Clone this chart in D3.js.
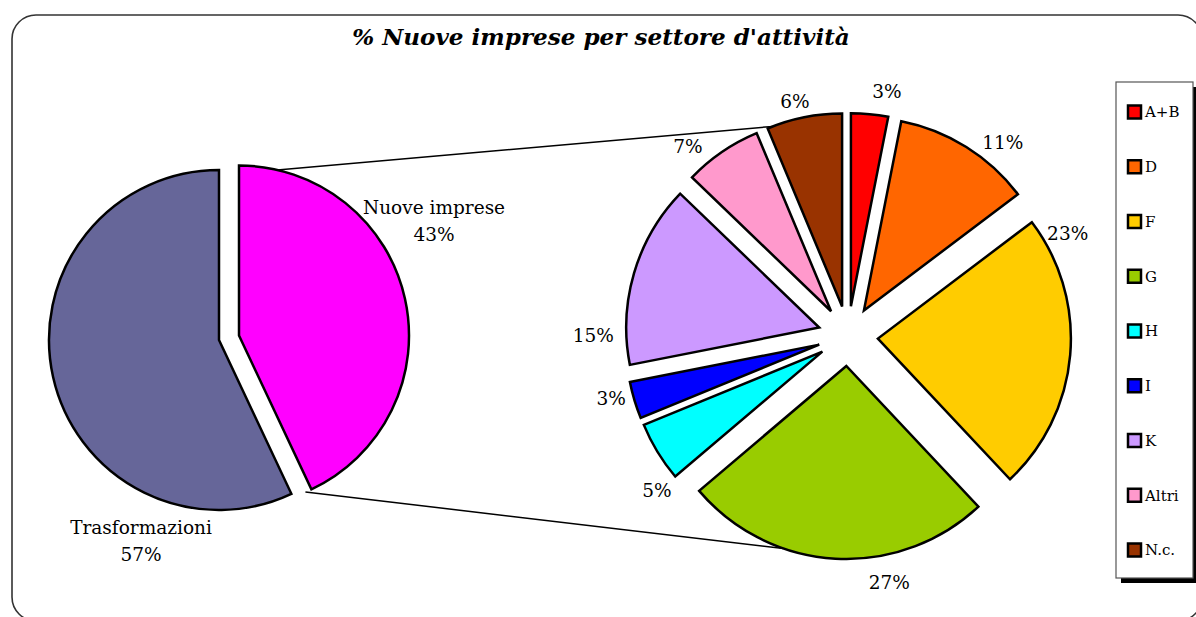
<!DOCTYPE html>
<html>
<head>
<meta charset="utf-8">
<script src="https://cdn.jsdelivr.net/npm/d3@7"></script>
<style>
  body { margin: 0; background: #fff; }
  svg { display: block; }
</style>
</head>
<body>
<div id="chart"></div>
<script>
// pie of pie: new enterprises vs transformations, then new ones by sector

const mainLabels = ["Nuove imprese", "Trasformazioni"];
const mainValues = [43, 57];
const mainColors = ["#ff00ff", "#666699"];

const sectors = ["A+B", "D", "F", "G", "H", "I", "K", "Altri", "N.c."];
// shares as drawn by the slices
const sectorValues = [3.1, 11.6, 23.3, 25.8, 5.0, 3.1, 15.3, 6.5, 6.3];
// data labels as printed on the chart
const sectorLabels = ["3%", "11%", "23%", "27%", "5%", "3%", "15%", "7%", "6%"];
const sectorColors = ["#ff0000", "#ff6600", "#ffcc00", "#99cc00", "#00ffff", "#0000ff", "#cc99ff", "#ff99cc", "#993300"];

const W = 1196, H = 617;
const serif = "'DejaVu Serif', serif";
const rad = deg => deg * Math.PI / 180;

// point on a circle, angle clockwise from 12 o'clock (same as d3.arc)
const polar = (cx, cy, r, a) => [cx + r * Math.sin(a), cy - r * Math.cos(a)];

const svg = d3.select("#chart")
	.append("svg")
	.attr("width", W)
	.attr("height", H);

// outer rounded frame (runs past the right and bottom edges)
svg.append("rect")
	.attr("x", 12).attr("y", 15)
	.attr("width", 1190).attr("height", 606)
	.attr("rx", 24)
	.attr("fill", "#fff")
	.attr("stroke", "#333")
	.attr("stroke-width", 1.6);

// title, scaled to fill its slot
const title = svg.append("text")
	.attr("x", 601).attr("y", 45)
	.attr("text-anchor", "middle")
	.style("font-family", serif)
	.style("font-weight", "bold")
	.style("font-style", "italic")
	.style("font-size", "20px")
	.text("% Nuove imprese per settore d'attività");
title.style("font-size", 20 * 498 / title.node().getComputedTextLength() + "px");

// ---- left pie
const left = { cx: 219, cy: 340, r: 170, explode: 20.5 };
const mainPie = d3.pie().sort(null).value(d => d)(mainValues);
const mainArc = d3.arc().innerRadius(0).outerRadius(left.r);

// only the first slice (Nuove imprese) is pulled out
const mainOffset = (d, i) => {
	if (i !== 0) return [0, 0];
	const m = (d.startAngle + d.endAngle) / 2;
	return [left.explode * Math.sin(m), -left.explode * Math.cos(m)];
};

// ---- right pie
const right = { cx: 848, cy: 336, r: 193, explode: 30 };
const secPie = d3.pie().sort(null).value(d => d)(sectorValues);
const secArc = d3.arc().innerRadius(0).outerRadius(right.r);
const secCenter = d => {
	const m = (d.startAngle + d.endAngle) / 2;
	return [right.cx + right.explode * Math.sin(m), right.cy - right.explode * Math.cos(m)];
};

// connector lines between the two pies
const pinkCenter = [left.cx + mainOffset(mainPie[0], 0)[0], left.cy + mainOffset(mainPie[0], 0)[1]];
const ncC = secCenter(secPie[8]);
const gC = secCenter(secPie[3]);
const seriesLines = [
	[polar(pinkCenter[0], pinkCenter[1], left.r, rad(13)), polar(ncC[0], ncC[1], right.r, rad(339))],
	[polar(pinkCenter[0], pinkCenter[1], left.r, rad(157)), polar(gC[0], gC[1], right.r, rad(199))]
];
svg.append("g")
	.selectAll("line")
	.data(seriesLines)
	.join("line")
		.attr("x1", d => d[0][0]).attr("y1", d => d[0][1])
		.attr("x2", d => d[1][0]).attr("y2", d => d[1][1])
		.attr("stroke", "#000")
		.attr("stroke-width", 1.5);

svg.append("g")
	.selectAll("path")
	.data(mainPie)
	.join("path")
		.attr("transform", (d, i) => {
			const o = mainOffset(d, i);
			return `translate(${left.cx + o[0]},${left.cy + o[1]})`;
		})
		.attr("d", mainArc)
		.attr("fill", (d, i) => mainColors[i])
		.attr("stroke", "#000")
		.attr("stroke-width", 2.5)
		.attr("stroke-linejoin", "miter");

svg.append("g")
	.selectAll("path")
	.data(secPie)
	.join("path")
		.attr("transform", d => `translate(${secCenter(d)})`)
		.attr("d", secArc)
		.attr("fill", (d, i) => sectorColors[i])
		.attr("stroke", "#000")
		.attr("stroke-width", 2.5)
		.attr("stroke-linejoin", "miter");

// ---- labels
const labelSize = 18.5;
const labelG = svg.append("g")
	.style("font-family", serif)
	.style("font-size", labelSize + "px")
	.attr("fill", "#000");

// left pie labels: name + percent on two lines (baseline of first line)
const mainLabelPos = [
	polar(pinkCenter[0], pinkCenter[1], 230, rad(58)),
	polar(left.cx, left.cy, 209, rad(201.9))
];
mainPie.forEach((d, i) => {
	const t = labelG.append("text")
		.attr("text-anchor", "middle")
		.attr("x", mainLabelPos[i][0])
		.attr("y", mainLabelPos[i][1]);
	t.append("tspan").attr("x", mainLabelPos[i][0]).text(mainLabels[i]);
	t.append("tspan").attr("x", mainLabelPos[i][0]).attr("dy", 27).text(mainValues[i] + "%");
});

// right pie labels sit around each exploded slice (best-fit angles)
const labelAngleDeg = [9.5, 39.6, 61, 168.8, 230, 255.4, 268, 319, 347];
const labelDist = [218, 218, 217, 221, 216, 215, 226, 218, 210];
labelG.selectAll("text.sec")
	.data(secPie)
	.join("text")
		.attr("class", "sec")
		.attr("text-anchor", "middle")
		.attr("dy", "0.35em")
		.attr("x", (d, i) => polar(...secCenter(d), labelDist[i], rad(labelAngleDeg[i]))[0])
		.attr("y", (d, i) => polar(...secCenter(d), labelDist[i], rad(labelAngleDeg[i]))[1])
		.text((d, i) => sectorLabels[i]);

// ---- legend with drop shadow
const lg = { x: 1116, y: 82, w: 77, h: 496 };
svg.append("rect")
	.attr("x", lg.x + 5).attr("y", lg.y + 5)
	.attr("width", lg.w).attr("height", lg.h)
	.attr("fill", "#000");
svg.append("rect")
	.attr("x", lg.x).attr("y", lg.y)
	.attr("width", lg.w).attr("height", lg.h)
	.attr("fill", "#fff")
	.attr("stroke", "#555")
	.attr("stroke-width", 1.2);

const yLegend = d3.scalePoint()
	.domain(sectors)
	.range([lg.y + 30, lg.y + lg.h - 28]);

const items = svg.append("g")
	.selectAll("g")
	.data(sectors)
	.join("g")
		.attr("transform", d => `translate(${lg.x + 12},${yLegend(d)})`);
items.append("rect")
	.attr("x", 0).attr("y", -6.5)
	.attr("width", 13).attr("height", 13)
	.attr("fill", (d, i) => sectorColors[i])
	.attr("stroke", "#000")
	.attr("stroke-width", 2.5);
items.append("text")
	.attr("x", 17).attr("dy", "0.35em")
	.style("font-family", serif)
	.style("font-size", "15px")
	.text(d => d);
</script>
</body>
</html>
